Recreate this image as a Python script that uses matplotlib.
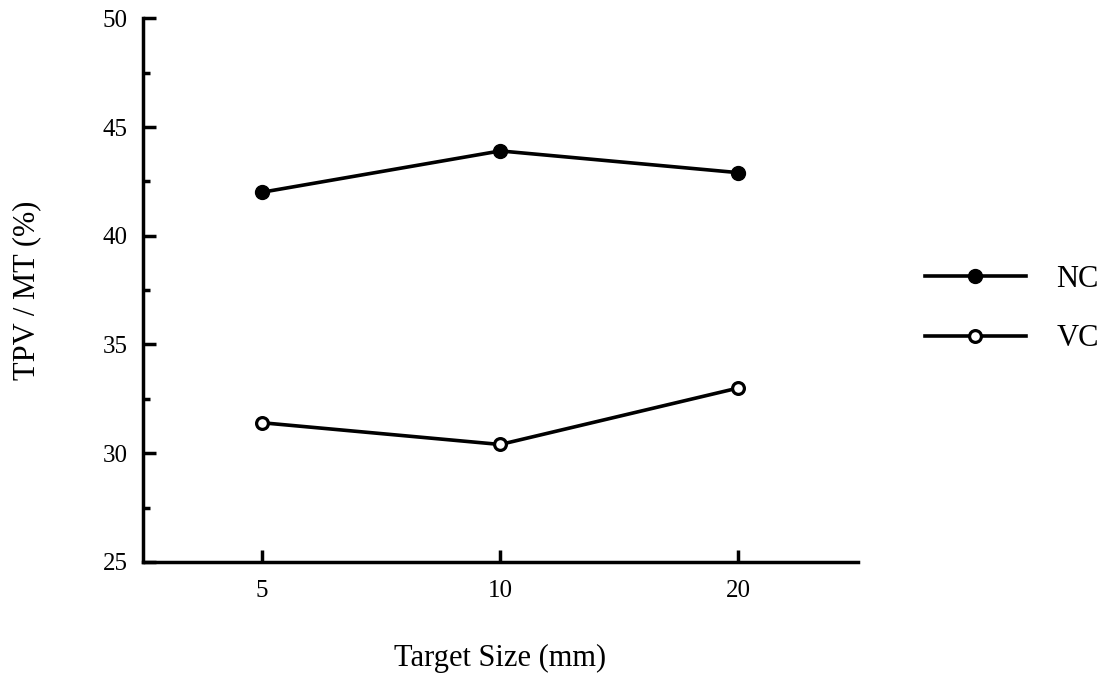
import matplotlib

matplotlib.use("Agg")
import matplotlib.pyplot as plt

plt.rcParams["font.family"] = ["Liberation Serif", "DejaVu Serif"]

target_sizes = ["5", "10", "20"]
nc_values = [42.0, 43.9, 42.9]
vc_values = [31.4, 30.4, 33.0]
y_ticks = [25, 30, 35, 40, 45, 50]


def main():
    fig = plt.figure(figsize=(11.13, 6.77), dpi=100)
    ax = fig.add_axes([0.1285, 0.170, 0.642, 0.803])
    x = range(len(target_sizes))

    ax.plot(x, nc_values, color="black", lw=2.6, marker="o", ms=10,
            mfc="black", mec="black", label="NC")
    ax.plot(x, vc_values, color="black", lw=2.6, marker="o", ms=8.5,
            mfc="white", mec="black", mew=2.3, label="VC")

    ax.set_xlim(-0.5, 2.5)
    ax.set_ylim(25, 50)
    ax.set_xticks(list(x))
    ax.set_xticklabels(target_sizes)
    ax.set_yticks(y_ticks)
    ax.set_yticks([27.5, 32.5, 37.5, 42.5, 47.5], minor=True)

    for side in ("top", "right"):
        ax.spines[side].set_visible(False)
    for side in ("left", "bottom"):
        ax.spines[side].set_linewidth(2.5)

    ax.tick_params(axis="both", which="major", direction="in", length=9,
                   width=2.5, labelsize=18)
    ax.tick_params(axis="y", which="major", pad=11)
    ax.tick_params(axis="x", which="major", pad=13)
    ax.tick_params(axis="y", which="minor", direction="in", length=5, width=2.5)

    ax.set_xlabel("Target Size (mm)", fontsize=22, labelpad=30)
    ax.set_ylabel("TPV / MT (%)", fontsize=22, labelpad=44)

    ax.legend(loc="center left", bbox_to_anchor=(1.056, 0.465), frameon=False,
              fontsize=22, handlelength=3.3, handletextpad=1.0, labelspacing=1.0)

    fig.savefig("out.png", dpi=100)
    plt.close(fig)


if __name__ == "__main__":
    main()
